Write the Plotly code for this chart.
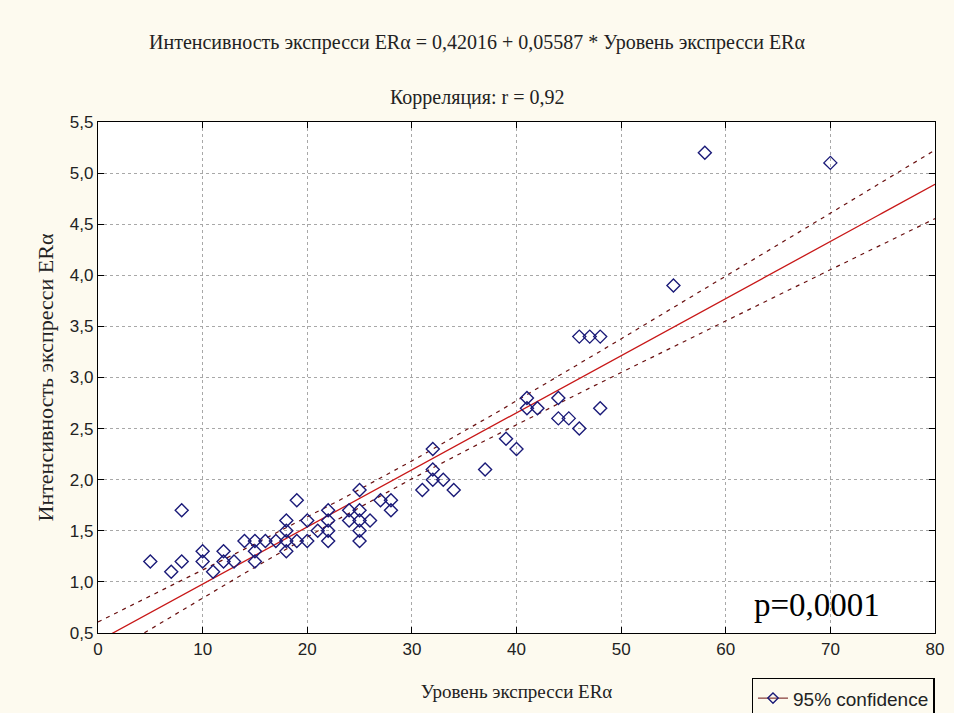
import numpy as np
import plotly.graph_objects as go

# ---- data ----
level_x = [5, 7, 8, 8, 10, 10, 11, 12, 12, 13, 14, 15, 15, 15, 16, 17,
           18, 18, 18, 18, 19, 19, 20, 20, 21, 22, 22, 22, 22, 24, 24,
           25, 25, 25, 25, 25, 26, 27, 28, 28, 31, 32, 32, 32, 33, 34,
           37, 39, 40, 41, 41, 42, 44, 44, 45, 46, 46, 47, 48, 48, 55, 58, 70]
intensity_y = [1.2, 1.1, 1.7, 1.2, 1.3, 1.2, 1.1, 1.3, 1.2, 1.2, 1.4, 1.4, 1.3, 1.2, 1.4, 1.4,
               1.6, 1.5, 1.4, 1.3, 1.8, 1.4, 1.6, 1.4, 1.5, 1.7, 1.6, 1.5, 1.4, 1.7, 1.6,
               1.9, 1.7, 1.6, 1.5, 1.4, 1.6, 1.8, 1.8, 1.7, 1.9, 2.3, 2.1, 2.0, 2.0, 1.9,
               2.1, 2.4, 2.3, 2.8, 2.7, 2.7, 2.8, 2.6, 2.6, 3.4, 2.5, 3.4, 3.4, 2.7, 3.9, 5.2, 5.1]

INTERCEPT = 0.42016
SLOPE = 0.05587
T_CRIT = 2.0

title_line1 = "Интенсивность экспресси ERα = 0,42016 + 0,05587 * Уровень экспресси ERα"
title_line2 = "Корреляция: r = 0,92"
x_title = "Уровень экспресси ERα"
y_title = "Интенсивность экспресси ERα"
p_text = "p=0,0001"
legend_name = "95% confidence"

# ---- regression line and 95% confidence band ----
xa = np.array(level_x, dtype=float)
ya = np.array(intensity_y, dtype=float)
n = len(xa)
resid = ya - (INTERCEPT + SLOPE * xa)
s = np.sqrt(np.sum(resid ** 2) / (n - 2))
xbar = xa.mean()
sxx = np.sum((xa - xbar) ** 2)
xs = np.linspace(0, 80, 161)
fit = INTERCEPT + SLOPE * xs
half = T_CRIT * s * np.sqrt(1.0 / n + (xs - xbar) ** 2 / sxx)

SERIF = "Liberation Serif, Times New Roman, serif"
SANS = "Liberation Sans, Arial, sans-serif"
RED = "#C81818"
DASH = "#6a1010"
NAVY = "#1a1a78"

fig = go.Figure()
fig.add_trace(go.Scatter(x=xs, y=fit + half, mode="lines",
                         line=dict(color=DASH, width=1.2, dash="4px,5px"),
                         showlegend=False, hoverinfo="skip"))
fig.add_trace(go.Scatter(x=xs, y=fit - half, mode="lines",
                         line=dict(color=DASH, width=1.2, dash="4px,5px"),
                         showlegend=False, hoverinfo="skip"))
fig.add_trace(go.Scatter(x=xs, y=fit, mode="lines",
                         line=dict(color=RED, width=1.3),
                         showlegend=False, hoverinfo="skip"))
fig.add_trace(go.Scatter(x=level_x, y=intensity_y, mode="markers",
                         marker=dict(symbol="diamond-open", size=10,
                                     color=NAVY, line=dict(width=1.4, color=NAVY)),
                         showlegend=False))
fig.add_trace(go.Scatter(x=[None], y=[None], mode="lines+markers", name=legend_name,
                         line=dict(color=DASH, width=1),
                         marker=dict(symbol="diamond-open", size=8, color=NAVY,
                                     line=dict(width=1.4, color=NAVY))))

axis_common = dict(showline=True, linecolor="black", linewidth=1.3, mirror="ticks",
                   ticks="inside", ticklen=6, tickcolor="black", tickwidth=1,
                   showgrid=True, gridcolor="#a8a8a8", griddash="dot", gridwidth=1,
                   zeroline=False, tickfont=dict(family=SANS, size=17, color="#222"))

fig.update_xaxes(range=[0, 80], tickvals=[0, 10, 20, 30, 40, 50, 60, 70, 80],
                 title=dict(text=x_title, font=dict(family=SERIF, size=19, color="#222"),
                            standoff=27),
                 **axis_common)
fig.update_yaxes(range=[0.5, 5.5], tickvals=[0.5, 1, 1.5, 2, 2.5, 3, 3.5, 4, 4.5, 5, 5.5],
                 tickformat=".1f",
                 title=dict(text=y_title, font=dict(family=SERIF, size=22, color="#222"),
                            standoff=10),
                 **axis_common)

fig.add_annotation(text=title_line1, xref="paper", yref="paper", x=0.453, y=1.156,
                   xanchor="center", yanchor="middle", showarrow=False,
                   font=dict(family=SERIF, size=20, color="#222"))
fig.add_annotation(text=title_line2, xref="paper", yref="paper", x=0.453, y=1.048,
                   xanchor="center", yanchor="middle", showarrow=False,
                   font=dict(family=SERIF, size=20, color="#222"))
fig.add_annotation(text=p_text, xref="paper", yref="paper", x=0.859, y=0.055,
                   xanchor="center", yanchor="middle", showarrow=False,
                   font=dict(family=SERIF, size=33, color="black"))

fig.update_layout(
    width=954, height=713,
    margin=dict(l=98, r=19, t=122, b=80, autoexpand=False),
    paper_bgcolor="#FDFAEF", plot_bgcolor="white",
    separators=", ",
    showlegend=True,
    legend=dict(x=0.781, y=-0.088, xanchor="left", yanchor="top",
                bgcolor="#FDFAEF", bordercolor="black", borderwidth=1.3,
                font=dict(family=SANS, size=19, color="#222"),
                itemwidth=30, tracegroupgap=0),
)

fig.write_html("out.html")
